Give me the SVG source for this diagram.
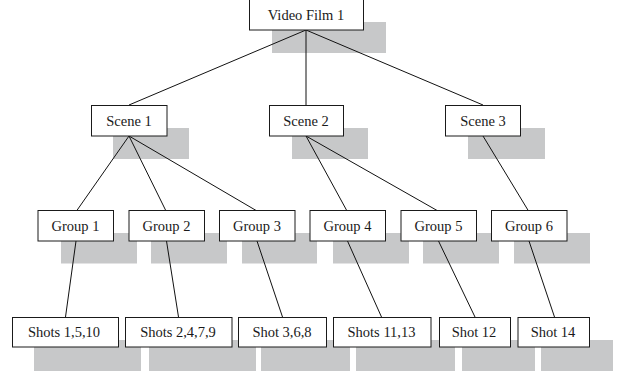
<svg xmlns="http://www.w3.org/2000/svg" width="624" height="371" viewBox="0 0 624 371">
<style>
.sh{fill:#c7c8c9;stroke:none}
.bx{fill:#ffffff;stroke:#1a1a1a;stroke-width:1}
.t{font-family:"Liberation Serif","Times New Roman",serif;font-size:14.5px;fill:#1a1a1a;text-anchor:middle}
#connectors line{stroke:#111;stroke-width:1}
</style>
<g id="shadows">
<rect class="sh" x="272" y="22" width="114" height="31"/>
<rect class="sh" x="113" y="128" width="76" height="31"/>
<rect class="sh" x="292" y="128" width="76" height="31"/>
<rect class="sh" x="468" y="128" width="77" height="31"/>
<rect class="sh" x="61" y="233" width="76" height="30.5"/>
<rect class="sh" x="151" y="233" width="76" height="30.5"/>
<rect class="sh" x="242" y="233" width="75" height="30.5"/>
<rect class="sh" x="333" y="233" width="76" height="30.5"/>
<rect class="sh" x="423" y="233" width="76" height="30.5"/>
<rect class="sh" x="514" y="233" width="76" height="30.5"/>
<rect class="sh" x="34" y="340" width="107" height="31"/>
<rect class="sh" x="149" y="340" width="107" height="31"/>
<rect class="sh" x="261" y="340" width="89" height="31"/>
<rect class="sh" x="356" y="340" width="99" height="31"/>
<rect class="sh" x="462" y="340" width="73" height="31"/>
<rect class="sh" x="541" y="340" width="72" height="31"/>
</g>
<g id="connectors">
<line x1="306" y1="30" x2="129" y2="105"/>
<line x1="306" y1="30" x2="306" y2="105"/>
<line x1="306" y1="30" x2="483" y2="105"/>
<line x1="129" y1="136" x2="76.5" y2="211"/>
<line x1="129" y1="136" x2="166" y2="211"/>
<line x1="129" y1="136" x2="257" y2="211"/>
<line x1="306" y1="136" x2="347" y2="211"/>
<line x1="306" y1="136" x2="438" y2="211"/>
<line x1="483" y1="136" x2="528.5" y2="211"/>
<line x1="76" y1="241" x2="65.5" y2="317"/>
<line x1="166.5" y1="241" x2="178.5" y2="317"/>
<line x1="257" y1="241" x2="282.5" y2="317"/>
<line x1="347.5" y1="241" x2="381.5" y2="317"/>
<line x1="438.5" y1="241" x2="475" y2="317"/>
<line x1="529" y1="241" x2="554.5" y2="317"/>
</g>
<g id="video-film-1"><rect class="bx" x="249.5" y="-0.5" width="114" height="30.5"/><text class="t" x="306" y="20">Video Film 1</text></g>
<g id="scene-1"><rect class="bx" x="91.5" y="105.5" width="75.5" height="30.5"/><text class="t" x="129" y="125.5">Scene 1</text></g>
<g id="scene-2"><rect class="bx" x="269.5" y="105.5" width="74" height="30.5"/><text class="t" x="306" y="125.5">Scene 2</text></g>
<g id="scene-3"><rect class="bx" x="445.5" y="105.5" width="75" height="30.5"/><text class="t" x="483" y="125.5">Scene 3</text></g>
<g id="group-1"><rect class="bx" x="38" y="210.5" width="75.5" height="30.5"/><text class="t" x="75.5" y="231">Group 1</text></g>
<g id="group-2"><rect class="bx" x="129" y="210.5" width="75.5" height="30.5"/><text class="t" x="166.5" y="231">Group 2</text></g>
<g id="group-3"><rect class="bx" x="219.5" y="210.5" width="75.5" height="30.5"/><text class="t" x="257" y="231">Group 3</text></g>
<g id="group-4"><rect class="bx" x="310" y="210.5" width="75.5" height="30.5"/><text class="t" x="347.5" y="231">Group 4</text></g>
<g id="group-5"><rect class="bx" x="401" y="210.5" width="75.5" height="30.5"/><text class="t" x="438.5" y="231">Group 5</text></g>
<g id="group-6"><rect class="bx" x="491.5" y="210.5" width="75.5" height="30.5"/><text class="t" x="529" y="231">Group 6</text></g>
<g id="shots-1-5-10"><rect class="bx" x="12.5" y="317.5" width="106" height="29.5"/><text class="t" x="64" y="337">Shots 1,5,10</text></g>
<g id="shots-2-4-7-9"><rect class="bx" x="125.5" y="317.5" width="106.5" height="29.5"/><text class="t" x="178" y="337">Shots 2,4,7,9</text></g>
<g id="shot-3-6-8"><rect class="bx" x="238.5" y="317.5" width="88" height="29.5"/><text class="t" x="282" y="337">Shot 3,6,8</text></g>
<g id="shots-11-13"><rect class="bx" x="333.5" y="317.5" width="97.5" height="29.5"/><text class="t" x="381.5" y="337">Shots 11,13</text></g>
<g id="shot-12"><rect class="bx" x="439.5" y="317.5" width="71" height="29.5"/><text class="t" x="474" y="337">Shot 12</text></g>
<g id="shot-14"><rect class="bx" x="518" y="317.5" width="71.5" height="29.5"/><text class="t" x="553" y="337">Shot 14</text></g>
</svg>
